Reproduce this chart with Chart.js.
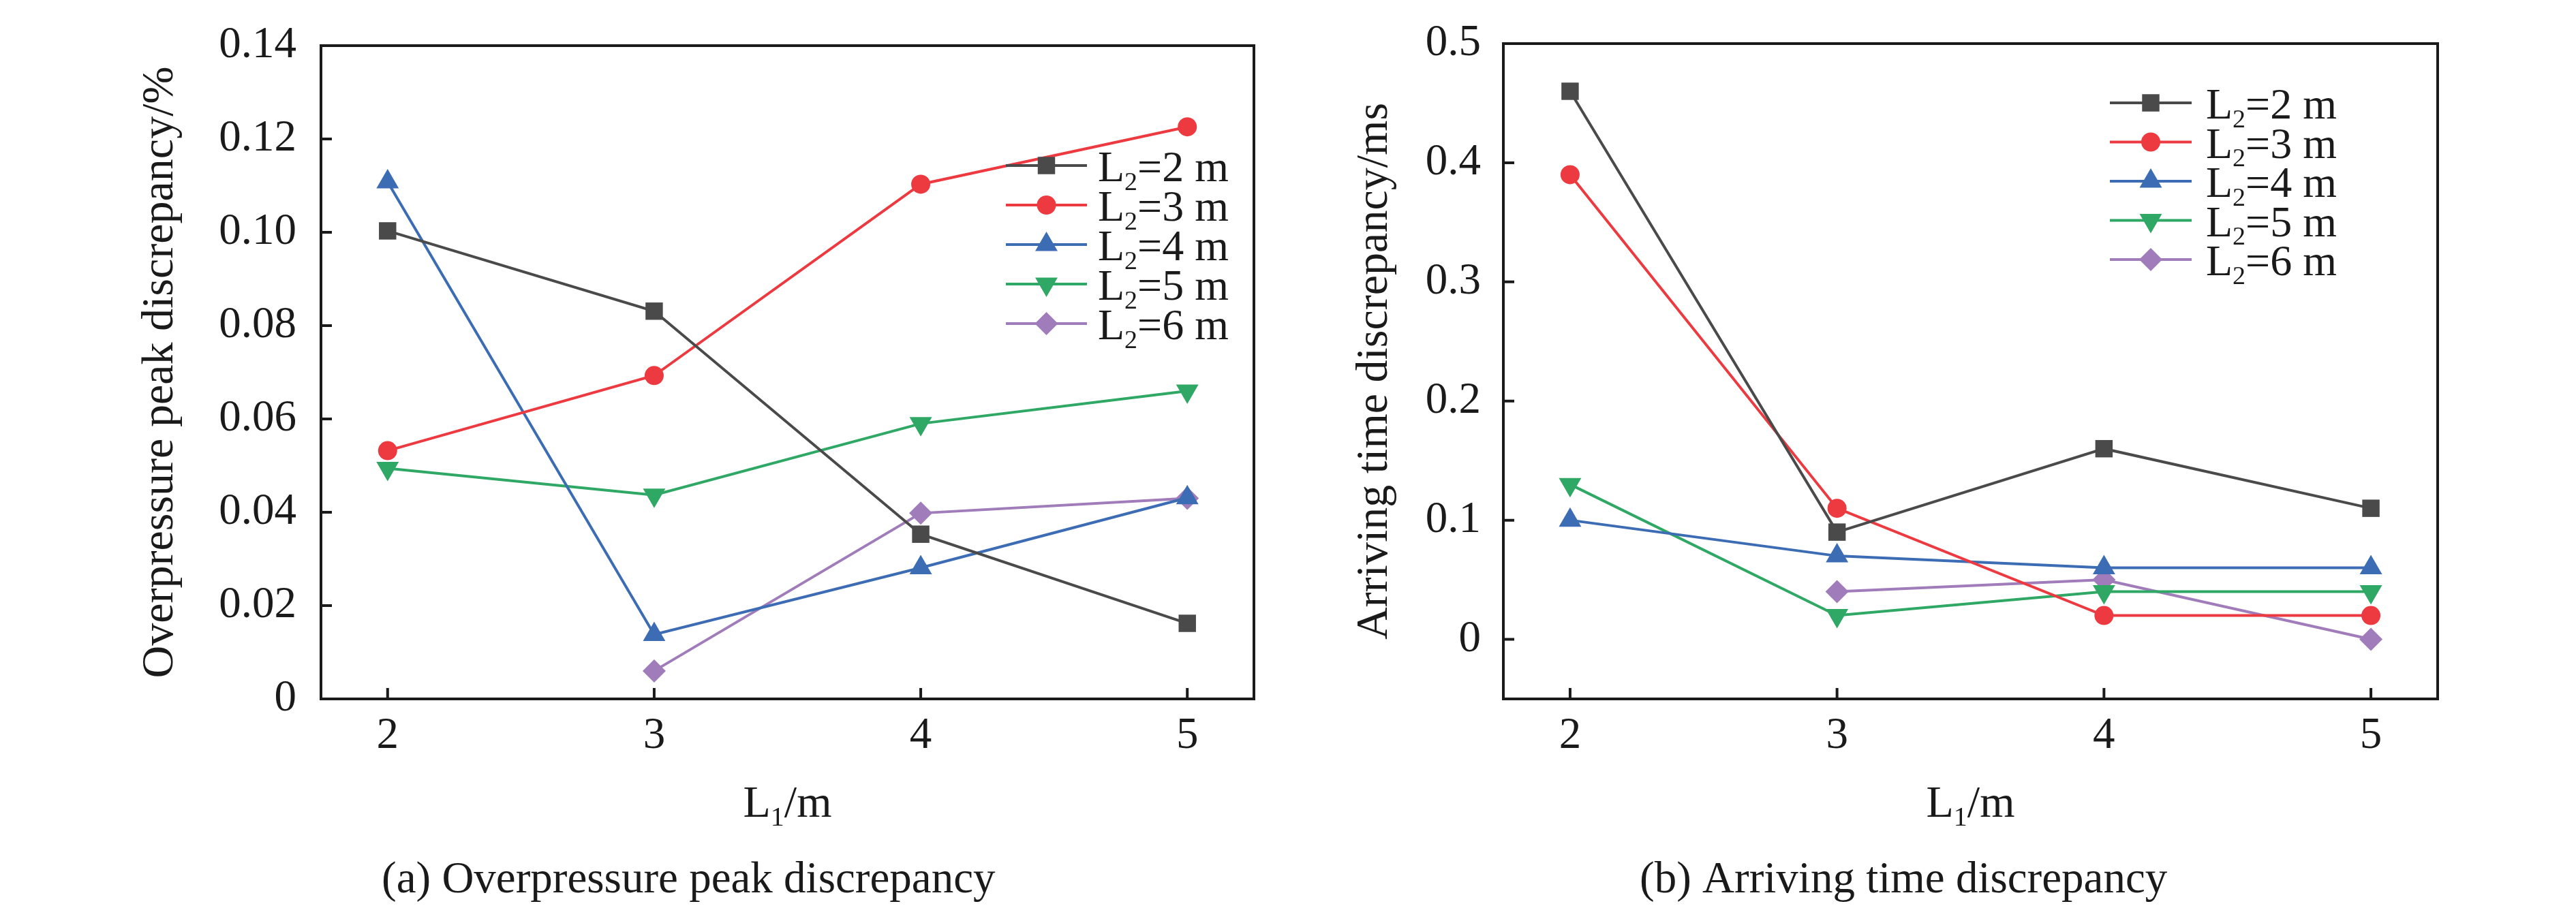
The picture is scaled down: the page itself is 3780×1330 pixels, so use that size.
<!DOCTYPE html>
<html>
<head>
<meta charset="utf-8">
<script src="https://cdn.jsdelivr.net/npm/chart.js@4.4.1/dist/chart.umd.min.js"></script>
<style>
  html, body { margin: 0; padding: 0; background: #fff; }
  #wrap { position: relative; width: 3780px; height: 1330px; }
  canvas { position: absolute; top: 0; }
</style>
</head>
<body>
<div id="wrap">
  <canvas id="peak" width="1890" height="1330" style="left:0"></canvas>
  <canvas id="arrive" width="1890" height="1330" style="left:1890px"></canvas>
</div>
<script>
// L1 positions (x axis) and the L2 value of each series
const L1 = [2, 3, 4, 5];
const L2 = ['2', '3', '4', '5', '6'];

// (a) overpressure peak discrepancy, %
const peakL2_2 = [0.1003, 0.0831, 0.0353, 0.0162];
const peakL2_3 = [0.0532, 0.0693, 0.1103, 0.1226];
const peakL2_4 = [0.1108, 0.0138, 0.0281, 0.0431];
const peakL2_5 = [0.0494, 0.0437, 0.0590, 0.0660];
const peakL2_6 = [null, 0.0060, 0.0398, 0.0430];

// (b) arriving time discrepancy, ms
const timeL2_2 = [0.46, 0.09, 0.16, 0.11];
const timeL2_3 = [0.39, 0.11, 0.02, 0.02];
const timeL2_4 = [0.10, 0.07, 0.06, 0.06];
const timeL2_5 = [0.13, 0.02, 0.04, 0.04];
const timeL2_6 = [null, 0.04, 0.05, 0.00];

const xTicks = [2, 3, 4, 5];
const peakTicks = [0, 0.02, 0.04, 0.06, 0.08, 0.10, 0.12, 0.14];
const timeTicks = [0, 0.1, 0.2, 0.3, 0.4, 0.5];

const FONT = '"Liberation Serif", "Times New Roman", serif';
const INK = '#1a1a1a';

const looks = [
    { color: '#4a4a4a', pointStyle: 'rect', radius: 18, rotation: 0 },
    { color: '#ec3a40', pointStyle: 'circle', radius: 14, rotation: 0 },
    { color: '#3c6cb4', pointStyle: 'triangle', radius: 19, rotation: 0 },
    { color: '#2fa865', pointStyle: 'triangle', radius: 19, rotation: 180 },
    { color: '#a07cba', pointStyle: 'rectRot', radius: 17, rotation: 0 }
];

function buildSets(seriesList) {
    return seriesList.map((vals, i) => ({
        label: L2[i],
        data: L1.map((x, j) => ({ x: x, y: vals[j] })),
        borderColor: looks[i].color,
        backgroundColor: looks[i].color,
        borderWidth: 4,
        pointStyle: looks[i].pointStyle,
        pointRadius: looks[i].radius,
        pointRotation: looks[i].rotation,
        pointBorderWidth: 0,
        pointHoverRadius: looks[i].radius,
        spanGaps: false
    }));
}

// text with a subscript, e.g. L2 or L1
function subText(ctx, a, s, b, x, y, f, align) {
    const main = f + 'px ' + FONT, small = Math.round(f * 0.6) + 'px ' + FONT;
    ctx.fillStyle = INK;
    ctx.textBaseline = 'alphabetic';
    ctx.textAlign = 'left';
    ctx.font = main; const wa = ctx.measureText(a).width;
    ctx.font = small; const ws = ctx.measureText(s).width;
    ctx.font = main; const wb = ctx.measureText(b).width;
    if (align === 'center') x -= (wa + ws + wb) / 2;
    ctx.font = main; ctx.fillText(a, x, y);
    ctx.font = small; ctx.fillText(s, x + wa, y + f * 0.2);
    ctx.font = main; ctx.fillText(b, x + wa + ws, y);
}

const decor = {
    id: 'decor',
    afterDraw(chart, args, o) {
        const { ctx, chartArea: a, scales: { x, y } } = chart;
        ctx.save();
        // frame and inward ticks
        ctx.strokeStyle = INK;
        ctx.lineWidth = 4;
        ctx.strokeRect(a.left, a.top, a.right - a.left, a.bottom - a.top);
        ctx.beginPath();
        x.ticks.forEach(t => {
            const px = x.getPixelForValue(t.value);
            ctx.moveTo(px, a.bottom); ctx.lineTo(px, a.bottom - 16);
        });
        y.ticks.forEach(t => {
            const py = y.getPixelForValue(t.value);
            ctx.moveTo(a.left, py); ctx.lineTo(a.left + 16, py);
        });
        ctx.stroke();

        // legend inside the plot
        chart.data.datasets.forEach((ds, i) => {
            const ly = o.legendY + i * o.legendGap;
            ctx.strokeStyle = ds.borderColor;
            ctx.lineWidth = ds.borderWidth;
            ctx.beginPath();
            ctx.moveTo(o.legendX, ly);
            ctx.lineTo(o.legendX + o.legendLen, ly);
            ctx.stroke();
            ctx.fillStyle = ds.backgroundColor;
            Chart.helpers.drawPoint(ctx, {
                pointStyle: ds.pointStyle, rotation: ds.pointRotation,
                radius: ds.pointRadius, borderWidth: 0
            }, o.legendX + o.legendLen / 2, ly);
            subText(ctx, 'L', '2', '=' + ds.label + ' m', o.legendX + o.legendLen + o.textGap, ly + 23, 64);
        });

        // x axis title and caption
        subText(ctx, 'L', '1', '/m', (a.left + a.right) / 2, 1199, 66, 'center');
        ctx.font = '65px ' + FONT;
        ctx.fillStyle = INK;
        ctx.textAlign = 'left';
        ctx.fillText(o.caption, o.captionX, 1310);
        ctx.restore();
    }
};

function makeChart(id, sets, yMin, yMax, yTicks, yDigits, yTitle, box, extras) {
    return new Chart(document.getElementById(id).getContext('2d'), {
        type: 'line',
        data: { datasets: sets },
        options: {
            responsive: false,
            devicePixelRatio: 1,
            animation: false,
            layout: { padding: { left: 0, top: box.top, right: box.right, bottom: 0 } },
            plugins: { legend: { display: false }, tooltip: { enabled: false }, decor: extras },
            scales: {
                x: {
                    type: 'linear', min: 1.75, max: 5.25,
                    afterBuildTicks: s => { s.ticks = xTicks.map(v => ({ value: v })); },
                    afterFit: s => { s.height = 1330 - box.bottom; },
                    grid: { display: false },
                    border: { display: false },
                    ticks: {
                        color: INK, padding: 8, maxRotation: 0, autoSkip: false,
                        font: { family: FONT, size: 65 },
                        callback: v => String(v)
                    }
                },
                y: {
                    type: 'linear', min: yMin, max: yMax,
                    afterBuildTicks: s => { s.ticks = yTicks.map(v => ({ value: v })); },
                    afterFit: s => { s.width = box.left; },
                    grid: { display: false },
                    border: { display: false },
                    ticks: {
                        color: INK, padding: box.tickPad,
                        font: { family: FONT, size: 65 },
                        callback: v => v === 0 ? '0' : v.toFixed(yDigits)
                    },
                    title: {
                        display: true, text: yTitle, color: INK,
                        font: { family: FONT, size: 66 },
                        padding: { top: box.titlePad, bottom: 0 }
                    }
                }
            }
        },
        plugins: [decor]
    });
}

makeChart('peak',
    buildSets([peakL2_2, peakL2_3, peakL2_4, peakL2_5, peakL2_6]),
    0, 0.14, peakTicks, 2, 'Overpressure peak discrepancy/%',
    { left: 471, top: 34, right: 50, bottom: 1026, tickPad: 28, titlePad: 196 },
    { legendX: 1476, legendLen: 119, legendY: 243, legendGap: 58, textGap: 16,
      caption: '(a) Overpressure peak discrepancy', captionX: 560 });

makeChart('arrive',
    buildSets([timeL2_2, timeL2_3, timeL2_4, timeL2_5, timeL2_6]),
    -0.05, 0.5, timeTicks, 1, 'Arriving time discrepancy/ms',
    { left: 316, top: 32, right: 203, bottom: 1026, tickPad: 25, titlePad: 88 },
    { legendX: 1206, legendLen: 120, legendY: 151, legendGap: 57.5, textGap: 21,
      caption: '(b) Arriving time discrepancy', captionX: 516 });
</script>
</body>
</html>
